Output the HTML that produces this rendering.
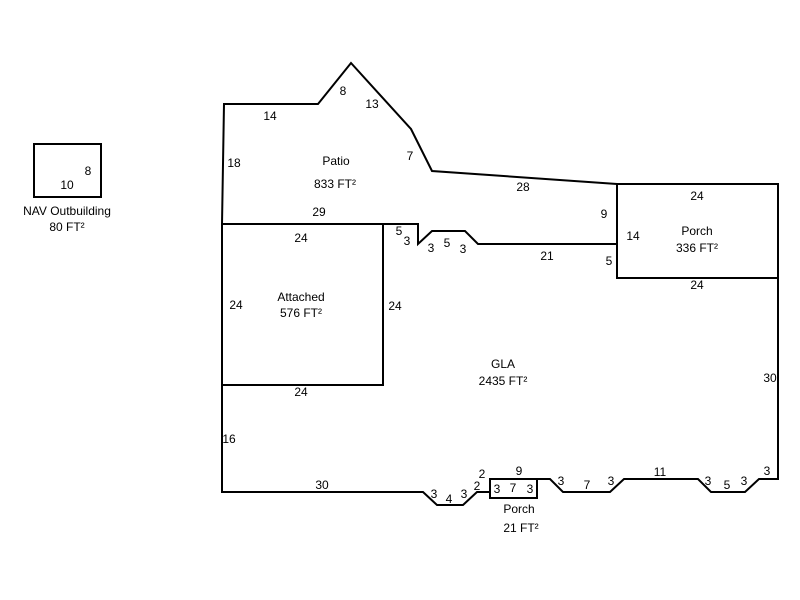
<!DOCTYPE html>
<html><head><meta charset="utf-8"><style>
html,body{margin:0;padding:0;background:#fff;}
svg{display:block;}
text{font-family:"Liberation Sans",Arial,sans-serif;font-size:12px;fill:#000;text-anchor:middle;}
</style></head><body>
<svg width="800" height="600" viewBox="0 0 800 600">
<g fill="none" stroke="#000" stroke-width="2" stroke-linejoin="miter">
<rect x="34" y="144" width="67" height="53"/>
<polyline points="222,224 224,104 318,104 351,63 411,129 432,171 617,184"/>
<rect x="222" y="224" width="161" height="161"/>
<rect x="617" y="184" width="161" height="94"/>
<polyline points="383,224 418,224 418,244 432,231 465,231 478,244 617,244"/>
<polyline points="222,385 222,492 423,492 437,505 463,505 477,492 490,492"/>
<rect x="490" y="479" width="47" height="19"/>
<polyline points="537,479 550,479 563,492 610,492 624,479 698,479 711,492 745,492 759,479 778,479 778,278"/>
</g>
<text x="88" y="175">8</text>
<text x="67" y="189">10</text>
<text x="67" y="215">NAV Outbuilding</text>
<text x="67" y="231">80 FT²</text>
<text x="343" y="95">8</text>
<text x="372" y="108">13</text>
<text x="270" y="120">14</text>
<text x="410" y="160">7</text>
<text x="234" y="167">18</text>
<text x="336" y="165">Patio</text>
<text x="335" y="188">833 FT²</text>
<text x="523" y="191">28</text>
<text x="319" y="216">29</text>
<text x="604" y="218">9</text>
<text x="697" y="200">24</text>
<text x="399" y="235">5</text>
<text x="407" y="245">3</text>
<text x="431" y="252">3</text>
<text x="447" y="247">5</text>
<text x="463" y="253">3</text>
<text x="301" y="242">24</text>
<text x="633" y="240">14</text>
<text x="697" y="235">Porch</text>
<text x="697" y="252">336 FT²</text>
<text x="547" y="260">21</text>
<text x="609" y="265">5</text>
<text x="697" y="289">24</text>
<text x="301" y="301">Attached</text>
<text x="301" y="317">576 FT²</text>
<text x="236" y="309">24</text>
<text x="395" y="310">24</text>
<text x="503" y="368">GLA</text>
<text x="503" y="385">2435 FT²</text>
<text x="770" y="382">30</text>
<text x="301" y="396">24</text>
<text x="229" y="443">16</text>
<text x="322" y="489">30</text>
<text x="519" y="475">9</text>
<text x="660" y="476">11</text>
<text x="482" y="478">2</text>
<text x="767" y="475">3</text>
<text x="477" y="490">2</text>
<text x="434" y="498">3</text>
<text x="449" y="503">4</text>
<text x="464" y="498">3</text>
<text x="497" y="493">3</text>
<text x="513" y="492">7</text>
<text x="530" y="493">3</text>
<text x="561" y="485">3</text>
<text x="587" y="489">7</text>
<text x="611" y="485">3</text>
<text x="708" y="485">3</text>
<text x="727" y="489">5</text>
<text x="744" y="485">3</text>
<text x="519" y="513">Porch</text>
<text x="521" y="532">21 FT²</text>
</svg>
</body></html>
